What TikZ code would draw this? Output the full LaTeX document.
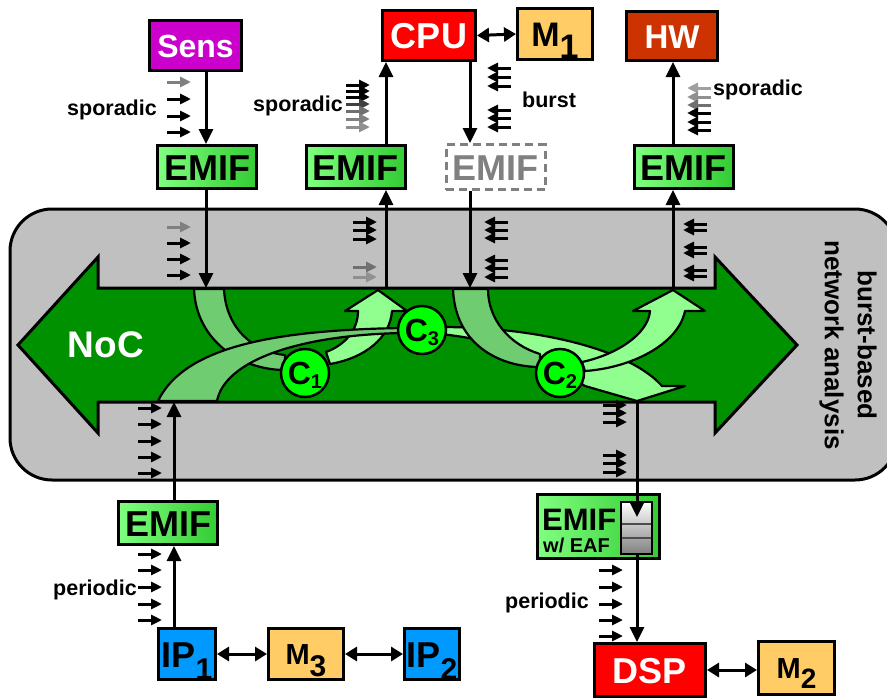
\documentclass[tikz,border=0pt]{standalone}
\usepackage{fontspec}
\setmainfont{Liberation Sans}
\usetikzlibrary{arrows.meta}
\definecolor{sensc}{HTML}{CC00CC}
\definecolor{cpuc}{HTML}{FF0000}
\definecolor{memc}{HTML}{FFCC66}
\definecolor{hwc}{HTML}{CC3300}
\definecolor{ipc}{HTML}{0099FF}
\definecolor{bgc}{HTML}{C0C0C0}
\definecolor{nocc}{HTML}{009100}
\definecolor{bandd}{HTML}{70CC70}
\definecolor{bandb}{HTML}{90FF90}
\definecolor{circc}{HTML}{00FF00}
\definecolor{emifL}{HTML}{80FF80}
\definecolor{emifR}{HTML}{33CC33}
\definecolor{ga}{HTML}{808080}
\definecolor{gb}{HTML}{404040}
\definecolor{gc}{HTML}{707070}
\definecolor{gd}{HTML}{909090}
\definecolor{ge}{HTML}{A0A0A0}
\newcommand\fs[1]{\fontsize{#1}{#1}\selectfont}
\newcommand\ra[3][black]{\draw[sarr,#1] (#2,#3) -- ++(24,0);}
\newcommand\la[3][black]{\draw[sarr,#1] (#2,#3) -- ++(-24,0);}
\newcommand\lab[4]{#1\raisebox{-#4pt}[0pt][0pt]{\fs{#3}#2}}
\begin{document}
\begin{tikzpicture}[x=1pt,y=-1pt,
  conn/.style={line width=3pt,-{Triangle[length=15pt,width=14pt]}},
  dconn/.style={line width=3pt,{Triangle[length=12pt,width=14pt]}-{Triangle[length=12pt,width=14pt]}},
  sarr/.style={line width=3pt,-{Triangle[length=11pt,width=10pt]}},
  bx/.style={draw,line width=3pt,inner sep=0pt,text depth=0pt},
  emif/.style={bx,left color=emifL,right color=emifR,minimum width=99pt,minimum height=43pt,font=\fs{36}\bfseries,text height=26pt},
  band/.style={draw,line width=2.2pt,line join=round},
  cnode/.style={circle,draw,line width=2.5pt,fill=circc,minimum size=48pt,inner sep=0pt,font=\fs{32}\bfseries,text height=23pt,text depth=0pt},
  lbl/.style={font=\fs{21.5}\bfseries,inner sep=0pt}]
\useasboundingbox (0,0) rectangle (887,697);
\clip (0,0) rectangle (887,697);
% background container
\draw[line width=3pt,fill=bgc,rounded corners=42pt] (10,209) rectangle (897,480);
% NoC double arrow
\draw[line width=3pt,fill=nocc,line join=miter] (18,345) -- (98,257) -- (98,288) -- (715,288) -- (715,257) -- (797,345) -- (715,433) -- (715,402) -- (98,402) -- (98,433) -- cycle;
\node[text=white,font=\fs{37}\bfseries] (noc) at (106,345) {NoC};
\node[rotate=-90,align=center,font=\fontsize{26}{33}\selectfont\bfseries] (bba) at (848,345) {burst-based\\network analysis};
% flows inside NoC
\draw[band,fill=bandd] (194,289) .. controls (196,340) and (240,370) .. (285,370) -- (285,355) .. controls (255,352) and (226,330) .. (224,289) -- cycle;
\draw[band,fill=bandb] (326,352) .. controls (345,345) and (358,330) .. (358,311) -- (345,311) -- (378,290) -- (407,311) -- (392,311) .. controls (390,338) and (365,358) .. (330,364) -- cycle;
\draw[band,fill=bandd] (158,401) .. controls (185,345) and (280,330) .. (402,328) -- (402,333) .. controls (300,335) and (225,360) .. (217,401) -- cycle;
\draw[band,fill=bandb] (440,327) .. controls (540,327) and (630,350) .. (662,386) -- (685,386) -- (637,401) -- (585,386) .. controls (560,370) and (520,342) .. (440,334) -- cycle;
\draw[band,fill=bandd] (453,289) .. controls (455,345) and (500,367) .. (540,367) -- (540,354) .. controls (510,345) and (488,320) .. (488,289) -- cycle;
\draw[band,fill=bandb] (582,362) .. controls (615,355) and (648,335) .. (650,311) -- (633,311) -- (673,290) -- (705,311) -- (685,311) .. controls (678,345) and (630,368) .. (585,371) -- cycle;
\node[cnode] (c1) at (305,373) {\lab{C}{1}{20}{4}};
\node[cnode] (c3) at (422,330) {\lab{C}{3}{20}{4}};
\node[cnode] (c2) at (560,373) {\lab{C}{2}{20}{4}};
% attachment points on the NoC
\coordinate (n1) at (206,288);
\coordinate (n2) at (386,288);
\coordinate (n3) at (470,288);
\coordinate (n4) at (673,288);
\coordinate (n5) at (174,402);
\coordinate (n6) at (637,402);
\coordinate (f1) at (637,517);
% top components
\node[bx,fill=sensc,text=white,minimum width=92pt,minimum height=50pt,font=\fs{32}\bfseries,text height=23pt] (sens) at (195.5,45.5) {Sens};
\node[bx,fill=cpuc,text=white,minimum width=93pt,minimum height=50pt,font=\fs{36}\bfseries,text height=26pt] (cpu) at (429,35.5) {CPU};
\node[bx,fill=memc,minimum width=75pt,minimum height=51pt,font=\fs{34}\bfseries,text height=24pt] (mone) at (555,34) {\lab{M}{1}{34}{12}};
\node[bx,fill=hwc,text=white,minimum width=91pt,minimum height=49pt,font=\fs{33}\bfseries,text height=24pt] (hw) at (672,36) {HW};
\node[emif] (e1) at (207,167) {EMIF};
\node[emif] (e2) at (355.5,167) {EMIF};
\node[bx,draw=ga,dash pattern=on 8pt off 5pt,fill=white,text=ga,minimum width=99pt,minimum height=45pt,font=\fs{36}\bfseries,text height=26pt] (e3) at (495.5,167) {EMIF};
\node[emif] (e4) at (683.5,167) {EMIF};
% bottom components
\node[emif] (e5) at (168,523) {EMIF};
\node[bx,fill=ipc,minimum width=57pt,minimum height=51pt,font=\fs{36}\bfseries,text height=26pt] (ipone) at (187,654) {\lab{IP}{1}{30}{12}};
\node[bx,fill=memc,minimum width=75pt,minimum height=51pt,font=\fs{29}\bfseries,text height=21pt] (mthree) at (306,654) {\lab{M}{3}{30}{12}};
\node[bx,fill=ipc,minimum width=55pt,minimum height=51pt,font=\fs{36}\bfseries,text height=26pt] (iptwo) at (432,654) {\lab{IP}{2}{30}{12}};
\node[bx,left color=emifL,right color=emifR,minimum width=122pt,minimum height=64pt] (e6) at (598.5,526.5) {};
\node[font=\fs{31}\bfseries,inner sep=0pt,anchor=base west] (e6t) at (542,530) {EMIF};
\node[font=\fs{20}\bfseries,inner sep=0pt,anchor=base west] (e6s) at (543,552) {w/ EAF};
\draw[line width=2.5pt,top color=white,bottom color=gray] (621,502) rectangle (652,554);
\node[inner sep=0pt,minimum width=31pt,minimum height=52pt] (fifo) at (636.5,528) {};
\draw[line width=1.2pt,black!70] (622,524) -- (651,524) (622,538) -- (651,538);
\node[bx,fill=cpuc,text=white,minimum width=111pt,minimum height=53pt,font=\fs{36}\bfseries,text height=26pt] (dsp) at (650,670) {DSP};
\node[bx,fill=memc,minimum width=76pt,minimum height=53pt,font=\fs{29}\bfseries,text height=21pt] (mtwo) at (796.5,668) {\lab{M}{2}{28}{10}};
% connectors
\draw[conn] (sens.south -| n1) -- (e1.north -| n1);
\draw[conn] (e1.south -| n1) -- (n1);
\draw[conn] (e2.north -| n2) -- (cpu.south -| n2);
\draw[conn] (n2) -- (e2.south -| n2);
\draw[conn] (cpu.south -| n3) -- (e3.north -| n3);
\draw[conn] (e3.south -| n3) -- (n3);
\draw[conn] (e4.north -| n4) -- (hw.south -| n4);
\draw[conn] (n4) -- (e4.south -| n4);
\draw[dconn] (cpu.east) -- (mone.west);
\draw[conn] (ipone.north -| n5) -- (e5.south -| n5);
\draw[conn] (e5.north -| n5) -- (n5);
\draw[dconn] (ipone.east) -- (mthree.west);
\draw[dconn] (mthree.east) -- (iptwo.west);
\draw[conn] (n6) -- (f1);
\draw[conn] (fifo.south -| n6) -- (dsp.north -| n6);
\draw[dconn] (dsp.east) -- (mtwo.west |- dsp.east);
% labels
\node[lbl,anchor=east] (l1) at (157,110) {sporadic};
\node[lbl,anchor=east] (l2) at (343,106) {sporadic};
\node[lbl,anchor=west] (l3) at (522,100) {burst};
\node[lbl,anchor=west] (l4) at (713,90) {sporadic};
\node[lbl,anchor=east] (l5) at (137,590) {periodic};
\node[lbl,anchor=east] (l6) at (589,603) {periodic};
% event arrows
\ra[ga]{167}{82}\ra{167}{99}\ra{167}{116}\ra{167}{132}
\ra[ga]{167}{227}\ra{167}{243}\ra{167}{259}\ra{167}{275}
\ra{346}{85}\ra{346}{91}\ra{346}{97}\ra[gb]{346}{104}\ra[gc]{346}{111}\ra[ga]{346}{119}\ra[gd]{346}{127}
\ra{353}{222}\ra{353}{230}\ra{353}{239}\ra[gc]{353}{267}\ra[gd]{353}{277}
\ra{138}{408}\ra{138}{424}\ra{138}{441}\ra{138}{457}\ra{138}{473}
\ra{138}{554}\ra{138}{570}\ra{138}{587}\ra{138}{604}\ra{138}{620}
\ra{603}{405}\ra{603}{413}\ra{603}{422}\ra{603}{455}\ra{603}{463}\ra{603}{472}
\ra{599}{570}\ra{599}{587}\ra{599}{604}\ra{599}{620}\ra{599}{636}
\la{511}{68}\la{511}{77}\la{511}{86}\la{511}{110}\la{511}{118}\la{511}{127}
\la{508}{222}\la{508}{230}\la{508}{238}\la{508}{260}\la{508}{268}\la{508}{277}
\la[ge]{711}{88}\la[gd]{711}{97}\la[gc]{711}{105}\la{711}{113}\la{711}{122}\la{711}{130}
\la{707}{224}\la{707}{230}\la{707}{247}\la{707}{253}\la{707}{270}\la{707}{276}
\end{tikzpicture}
\end{document}
